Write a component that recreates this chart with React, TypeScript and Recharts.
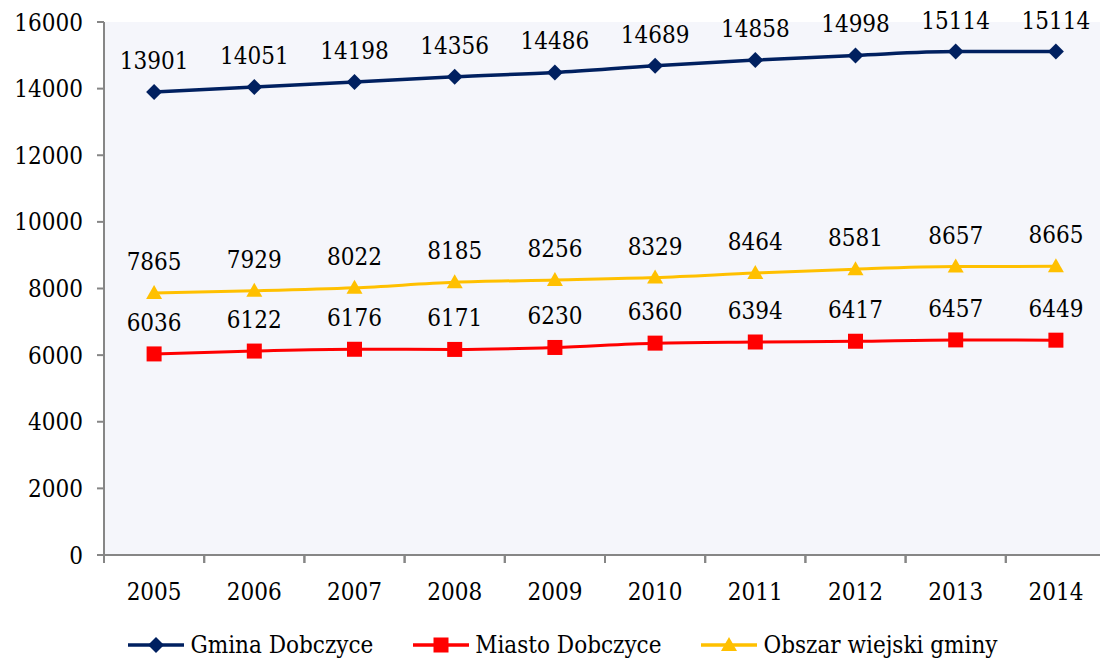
import { LineChart, Line, XAxis, YAxis, CartesianGrid, LabelList, Legend } from "recharts";

const years = ["2005", "2006", "2007", "2008", "2009", "2010", "2011", "2012", "2013", "2014"];
const gmina = [13901, 14051, 14198, 14356, 14486, 14689, 14858, 14998, 15114, 15114];
const miasto = [6036, 6122, 6176, 6171, 6230, 6360, 6394, 6417, 6457, 6449];
const obszar = [7865, 7929, 8022, 8185, 8256, 8329, 8464, 8581, 8657, 8665];
const yTicks = [0, 2000, 4000, 6000, 8000, 10000, 12000, 14000, 16000];

const series = [
  { key: "gmina", name: "Gmina Dobczyce", color: "#002060", shape: "diamond" },
  { key: "miasto", name: "Miasto Dobczyce", color: "#ff0000", shape: "square" },
  { key: "obszar", name: "Obszar wiejski gminy", color: "#ffc000", shape: "triangle" },
];

const data = years.map((y, i) => ({ year: y, gmina: gmina[i], miasto: miasto[i], obszar: obszar[i] }));

const FONT = "'DejaVu Serif Condensed', 'DejaVu Serif', serif";
const FS = 24;
const CHART_W = 1106;
const Y_W = 104;
const BAND = (CHART_W - Y_W) / years.length;

function Marker({ shape, cx, cy, color }: { shape: string; cx: number; cy: number; color: string }) {
  if (cx == null || cy == null) return null;
  if (shape === "diamond") {
    const r = 8;
    return <polygon points={`${cx},${cy - r} ${cx + r},${cy} ${cx},${cy + r} ${cx - r},${cy}`} fill={color} />;
  }
  if (shape === "square") {
    const r = 7.5;
    return <rect x={cx - r} y={cy - r} width={r * 2} height={r * 2} fill={color} />;
  }
  return <polygon points={`${cx},${cy - 8} ${cx + 8},${cy + 6} ${cx - 8},${cy + 6}`} fill={color} />;
}

function XTick(props: any) {
  const { x, y, payload } = props;
  return (
    <g>
      <line x1={x - BAND / 2} x2={x - BAND / 2} y1={y - 8} y2={y} stroke="#868686" strokeWidth={2} />
      <line x1={x + BAND / 2} x2={x + BAND / 2} y1={y - 8} y2={y} stroke="#868686" strokeWidth={2} />
      <text x={x} y={y + 37} textAnchor="middle" fontFamily={FONT} fontSize={FS} fill="#000">
        {payload.value}
      </text>
    </g>
  );
}

function LegendContent() {
  return (
    <div style={{ display: "flex", justifyContent: "center", gap: 40, fontFamily: FONT, fontSize: FS, color: "#000", paddingTop: 16, paddingLeft: 20 }}>
      {series.map((s) => (
        <div key={s.key} style={{ display: "flex", alignItems: "center" }}>
          <svg width={56} height={20} style={{ marginRight: 6 }}>
            <line x1={0} x2={56} y1={10} y2={10} stroke={s.color} strokeWidth={3.5} />
            <Marker shape={s.shape} cx={28} cy={10} color={s.color} />
          </svg>
          <span>{s.name}</span>
        </div>
      ))}
    </div>
  );
}

export default function App() {
  return (
    <div style={{ position: "absolute", left: 0, top: 0, width: 1100, height: 659, overflow: "hidden", background: "#fff" }}>
      <LineChart width={CHART_W} height={659} data={data} margin={{ top: 22, right: 0, bottom: 0, left: 0 }}>
        <CartesianGrid fill="#f5f6fb" stroke="none" />
        <XAxis
          dataKey="year"
          padding={{ left: BAND / 2, right: BAND / 2 }}
          height={60}
          stroke="#868686"
          strokeWidth={2}
          tickLine={false}
          tick={<XTick />}
          interval={0}
        />
        <YAxis
          domain={[0, 16000]}
          ticks={yTicks}
          width={Y_W}
          stroke="#868686"
          strokeWidth={2}
          tickSize={7}
          tickMargin={14}
          tick={{ fontFamily: FONT, fontSize: FS, fill: "#000" }}
          interval={0}
        />
        <Legend verticalAlign="bottom" height={44} content={<LegendContent />} />
        {series.map((s) => (
          <Line
            key={s.key}
            dataKey={s.key}
            name={s.name}
            stroke={s.color}
            strokeWidth={s.key === "gmina" ? 3.5 : 3}
            type="monotone"
            isAnimationActive={false}
            dot={(p: any) => <Marker key={p.index} shape={s.shape} cx={p.cx} cy={p.cy} color={s.color} />}
            activeDot={false}
          >
            <LabelList dataKey={s.key} position="top" offset={23} fontFamily={FONT} fontSize={FS} fill="#000" />
          </Line>
        ))}
      </LineChart>
    </div>
  );
}
